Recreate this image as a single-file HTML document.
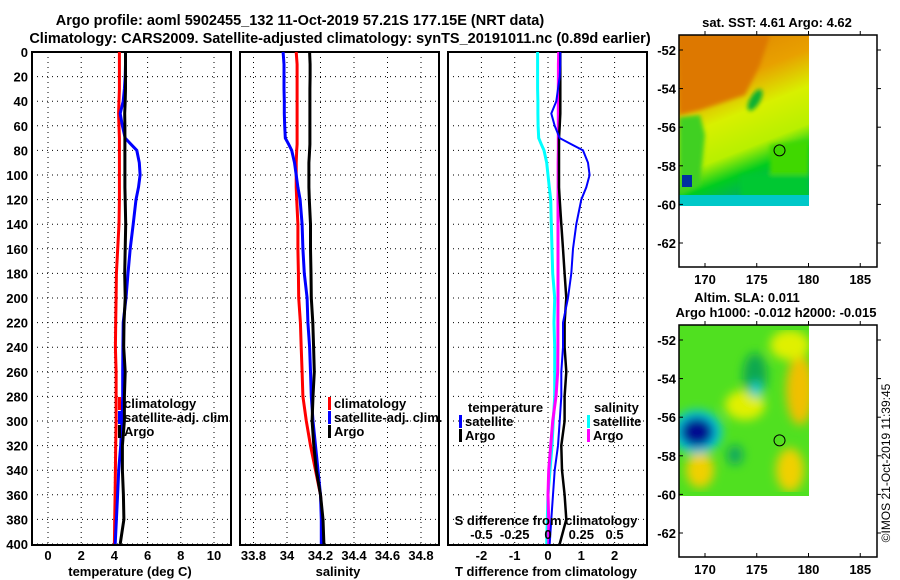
<!DOCTYPE html>
<html><head><meta charset="utf-8">
<style>
html,body{margin:0;padding:0;background:#fff;}
svg{display:block;font-family:"Liberation Sans",sans-serif;}
.b{font-weight:bold;font-size:14.5px;}
.t{font-weight:bold;font-size:13px;}
</style></head>
<body>
<svg id="chart" width="900" height="580" viewBox="0 0 900 580" xmlns="http://www.w3.org/2000/svg">
<defs>
<filter id="blur" x="0" y="0" width="1" height="1"><feGaussianBlur stdDeviation="5"/></filter>
<filter id="blur2" x="0" y="0" width="1" height="1"><feGaussianBlur stdDeviation="2"/></filter>
<clipPath id="clipTop"><rect x="679" y="35" width="130" height="171"/></clipPath>
<clipPath id="clipBot"><rect x="679" y="325" width="130" height="171"/></clipPath>
<linearGradient id="sstg" x1="0" y1="0" x2="0.3" y2="1">
<stop offset="0" stop-color="#dd7d00"/><stop offset="0.35" stop-color="#e8a000"/><stop offset="0.55" stop-color="#d8f000"/><stop offset="0.75" stop-color="#b8f000"/><stop offset="0.88" stop-color="#00cc20"/><stop offset="1" stop-color="#00b060"/>
</linearGradient>
</defs>
<text class="b" x="300" y="25" text-anchor="middle">Argo profile: aoml 5902455_132 11-Oct-2019 57.21S 177.15E (NRT data)</text>
<text class="b" x="340" y="43" text-anchor="middle">Climatology: CARS2009. Satellite-adjusted climatology: synTS_20191011.nc (0.89d earlier)</text>
<g id="panels"></g>
<g id="maps"></g>
<text x="890" y="463" font-size="12" text-anchor="middle" transform="rotate(-90 890 463)">©IMOS 21-Oct-2019 11:39:45</text>
</svg>
<script>
const depths = [0,10,20,30,40,50,60,70,75,80,90,100,110,120,140,160,180,200,220,240,260,280,300,320,340,360,380,400];
const climT = [4.3,4.3,4.3,4.3,4.28,4.25,4.28,4.3,4.3,4.3,4.3,4.3,4.3,4.3,4.28,4.2,4.12,4.1,4.08,4.06,4.1,4.1,4.1,4.08,4.06,4.04,4.02,4.0];
const satTdiff = [0.37,0.37,0.35,0.3,0.25,0.1,0.2,0.35,0.7,1.05,1.2,1.25,1.15,1.0,0.85,0.75,0.7,0.6,0.45,0.45,0.4,0.4,0.35,0.3,0.2,0.15,0.1,0.05];
const argoTdiff = [0.37,0.37,0.37,0.37,0.37,0.37,0.35,0.33,0.33,0.33,0.33,0.33,0.33,0.35,0.4,0.45,0.5,0.55,0.5,0.5,0.55,0.5,0.5,0.4,0.42,0.5,0.55,0.35];
const climS = [34.055,34.06,34.06,34.06,34.06,34.06,34.06,34.06,34.06,34.058,34.055,34.055,34.055,34.058,34.065,34.065,34.068,34.07,34.08,34.085,34.09,34.095,34.115,34.14,34.17,34.2,34.21,34.215];
const satSdiff = [-0.078,-0.078,-0.078,-0.078,-0.076,-0.076,-0.074,-0.07,-0.05,-0.03,-0.01,0.0,0.01,0.02,0.025,0.03,0.035,0.05,0.045,0.05,0.05,0.05,0.04,0.03,0.015,0.0,-0.005,-0.01];
const argoSdiff = [0.08,0.078,0.078,0.077,0.077,0.077,0.077,0.077,0.077,0.077,0.076,0.076,0.076,0.075,0.075,0.075,0.075,0.075,0.074,0.074,0.073,0.06,0.035,0.02,0.005,0.0,0.005,0.005];
const depthTicks = [0,20,40,60,80,100,120,140,160,180,200,220,240,260,280,300,320,340,360,380,400];
const tempTicks = [0,2,4,6,8,10];
const salTicks = [33.8,34,34.2,34.4,34.6,34.8];
const tdiffTicks = [-2,-1,0,1,2];
const sdiffTicks = [-0.5,-0.25,0,0.25,0.5];
const sdiffLabels = ["-0.5","-0.25","0","0.25","0.5"];

const NS="http://www.w3.org/2000/svg";
function mk(tag, attrs, parent, txt){const e=document.createElementNS(NS,tag);for(const k in attrs)e.setAttribute(k,attrs[k]);if(txt!==undefined)e.textContent=txt;parent.appendChild(e);return e;}
const yD = d => 52 + d*1.23;
const xT = t => 48 + 16.6*t;
const xS = s => 287 + (s-34)*167.5;
const xDT = t => 548 + 33.3*t;
const xDS = s => 548 + 133.2*s;
const G = document.getElementById('panels');

function frame(x0,name){
  const g = mk('g',{},G);
  
  
  return g;
}
function grid(g,x0,xs){
  depthTicks.forEach(d=>{ const l=mk('line',{x1:x0,x2:x0+199,y1:yD(d),y2:yD(d),stroke:'#000','stroke-width':1,'stroke-dasharray':'1 4'},g);
     });
  xs.forEach(x=>{ const l=mk('line',{x1:x,x2:x,y1:52,y2:545,stroke:'#000','stroke-width':1,'stroke-dasharray':'1 4'},g);
     });
  const r=mk('rect',{x:x0,y:52,width:199,height:493,fill:'none',stroke:'#000','stroke-width':2},g);
   
}
function line(g,vals,fx,color,w,name){
  const pts = vals.map((v,i)=>fx(v).toFixed(1)+','+yD(depths[i]).toFixed(1)).join(' ');
  const p = mk('polyline',{points:pts,fill:'none',stroke:color,'stroke-width':w,'stroke-linejoin':'miter'},g);
  
  
}
function legend(g,x,y,color,label,name){
  const r=mk('rect',{x:x,y:y-10,width:3,height:13,fill:color},g);
   
  const t=mk('text',{x:x+6,y:y+1,class:'t'},g,label);
   
}
const satT = climT.map((v,i)=>v+satTdiff[i]);
const argoT = climT.map((v,i)=>v+argoTdiff[i]);
const satS = climS.map((v,i)=>v+satSdiff[i]);
const argoS = climS.map((v,i)=>v+argoSdiff[i]);

let g1 = frame(32,'temperature-panel');
grid(g1,32,tempTicks.map(xT));
line(g1,climT,xT,'#ff0000',3,'temp-climatology-line');
line(g1,satT,xT,'#0000ff',3,'temp-satellite-line');
line(g1,argoT,xT,'#000',3,'temp-argo-line');
depthTicks.forEach(d=>{const t=mk('text',{x:28,y:yD(d)+5,class:'t','text-anchor':'end'},g1,String(d));  });
tempTicks.forEach(v=>{const t=mk('text',{x:xT(v),y:560,class:'t','text-anchor':'middle'},g1,String(v));  });
let at=mk('text',{x:130,y:576,class:'t','text-anchor':'middle'},g1,'temperature (deg C)');
 
legend(g1,118,407,'#ff0000','climatology','legend-climatology');
legend(g1,118,421,'#0000ff','satellite-adj. clim.','legend-satellite-adj');
legend(g1,118,435,'#000','Argo','legend-argo');

let g2 = frame(240,'salinity-panel');
grid(g2,240,salTicks.map(xS));
line(g2,climS,xS,'#ff0000',3,'sal-climatology-line');
line(g2,satS,xS,'#0000ff',3,'sal-satellite-line');
line(g2,argoS,xS,'#000',3,'sal-argo-line');
salTicks.forEach(v=>{const t=mk('text',{x:xS(v),y:560,class:'t','text-anchor':'middle'},g2,String(v));  });
at=mk('text',{x:338,y:576,class:'t','text-anchor':'middle'},g2,'salinity');
 
legend(g2,328,407,'#ff0000','climatology','legend-climatology');
legend(g2,328,421,'#0000ff','satellite-adj. clim.','legend-satellite-adj');
legend(g2,328,435,'#000','Argo','legend-argo');

let g3 = frame(448,'difference-panel');
grid(g3,448,tdiffTicks.map(xDT));
line(g3,satSdiff,xDS,'#00ffff',3,'sdiff-satellite-line');
line(g3,argoSdiff,xDS,'#ff00ff',3,'sdiff-argo-line');
line(g3,argoTdiff,xDT,'#000',2.5,'tdiff-argo-line');
line(g3,satTdiff,xDT,'#0000ff',2,'tdiff-satellite-line');
tdiffTicks.forEach(v=>{const t=mk('text',{x:xDT(v),y:560,class:'t','text-anchor':'middle'},g3,String(v));  });
sdiffTicks.forEach((v,i)=>{const t=mk('text',{x:xDS(v),y:539,class:'t','text-anchor':'middle'},g3,sdiffLabels[i]);  });
at=mk('text',{x:546,y:525,class:'t','text-anchor':'middle'},g3,'S difference from climatology');
 
at=mk('text',{x:546,y:576,class:'t','text-anchor':'middle'},g3,'T difference from climatology');
 
at=mk('text',{x:468,y:412,class:'t'},g3,'temperature');
 
at=mk('text',{x:594,y:412,class:'t'},g3,'salinity');
 
legend(g3,459,425,'#0000ff','satellite','legend-t-satellite');
legend(g3,459,439,'#000','Argo','legend-t-argo');
legend(g3,587,425,'#00ffff','satellite','legend-s-satellite');
legend(g3,587,439,'#ff00ff','Argo','legend-s-argo');

const lonTicks=[170,175,180,185];
const latTicks=[-52,-54,-56,-58,-60,-62];
const M=document.getElementById('maps');
const xLon = (lon)=>705+(lon-170)*10.35;
function mapFrame(y0,name,kind){
  const g=mk('g',{},M);
  
  
  const yLat = lat => y0+15+(-52-lat)*19.3;
  const img=mk('g',{'clip-path':kind==='sst'?'url(#clipTop)':'url(#clipBot)'},g);
  
  
  if(kind==='sst'){
    mk('rect',{x:679,y:y0,width:130,height:171,fill:'url(#sstg)'},img);
    const f=mk('g',{filter:'url(#blur2)'},img);
    mk('polygon',{points:'679,'+y0+' 770,'+y0+' 760,'+(y0+30)+' 745,'+(y0+60)+' 700,'+(y0+75)+' 679,'+(y0+80),fill:'#dd7800'},f);
    mk('polygon',{points:'679,'+(y0+82)+' 700,'+(y0+80)+' 705,'+(y0+100)+' 700,'+(y0+150)+' 679,'+(y0+160),fill:'#40d020'},f);
    mk('polygon',{points:'740,'+(y0+140)+' 809,'+(y0+135)+' 809,'+(y0+165)+' 740,'+(y0+165),fill:'#00c830'},f);
    mk('polygon',{points:'770,'+(y0+110)+' 809,'+(y0+105)+' 809,'+(y0+140)+' 770,'+(y0+140),fill:'#40d800'},f);
    mk('ellipse',{cx:755,cy:y0+65,rx:5,ry:12,fill:'#10b030',transform:'rotate(30 755 '+(y0+65)+')'},f);
    mk('rect',{x:679,y:y0+160,width:130,height:11,fill:'#00c8c8'},img);
    mk('rect',{x:682,y:y0+140,width:10,height:12,fill:'#0030a0'},img);
  } else {
    mk('rect',{x:679,y:y0,width:130,height:171,fill:'#50e020'},img);
    const f=mk('g',{filter:'url(#blur)'},img);
    mk('ellipse',{cx:745,cy:y0+80,rx:20,ry:15,fill:'#e0f000'},f);
    mk('ellipse',{cx:800,cy:y0+65,rx:14,ry:35,fill:'#f0c000'},f);
    mk('ellipse',{cx:790,cy:y0+145,rx:14,ry:22,fill:'#f0d000'},f);
    mk('ellipse',{cx:700,cy:y0+145,rx:14,ry:18,fill:'#f0d000'},f);
    mk('ellipse',{cx:790,cy:y0+20,rx:20,ry:15,fill:'#e0f000'},f);
    mk('ellipse',{cx:755,cy:y0+50,rx:12,ry:22,fill:'#10a850'},f);
    mk('ellipse',{cx:756,cy:y0+65,rx:6,ry:8,fill:'#20d0d0'},f);
    mk('ellipse',{cx:735,cy:y0+130,rx:8,ry:10,fill:'#10a860'},f);
    mk('ellipse',{cx:697,cy:y0+107,rx:25,ry:22,fill:'#00c8e0'},f);
    mk('ellipse',{cx:697,cy:y0+107,rx:17,ry:15,fill:'#000890'},f);
  }
  mk('circle',{cx:xLon(177.2),cy:yLat(-57.2),r:5.5,fill:'none',stroke:'#000','stroke-width':1},g);
  mk('rect',{x:679,y:y0,width:198,height:232,fill:'none',stroke:'#000','stroke-width':1.5},g);
  lonTicks.forEach(l=>{
    mk('line',{x1:xLon(l),x2:xLon(l),y1:y0,y2:y0-4,stroke:'#000'},g);
    mk('line',{x1:xLon(l),x2:xLon(l),y1:y0+232,y2:y0+228,stroke:'#000'},g);
    const t=mk('text',{x:xLon(l),y:y0+249,class:'t','text-anchor':'middle'},g,String(l));
     
  });
  latTicks.forEach(l=>{
    mk('line',{x1:679,x2:683,y1:yLat(l),y2:yLat(l),stroke:'#000'},g);
    mk('line',{x1:877,x2:881,y1:yLat(l),y2:yLat(l),stroke:'#000'},g);
    const t=mk('text',{x:676,y:yLat(l)+5,class:'t','text-anchor':'end'},g,String(l));
     
  });
  return g;
}
const m1=mapFrame(35,'sst-map','sst');
let tt=mk('text',{x:777,y:27,class:'t','text-anchor':'middle'},m1,'sat. SST: 4.61 Argo: 4.62');
 
const m2=mapFrame(325,'sla-map','sla');
tt=mk('text',{x:747,y:302,class:'t','text-anchor':'middle'},m2,'Altim. SLA: 0.011');
 
tt=mk('text',{x:776,y:317,class:'t','text-anchor':'middle'},m2,'Argo h1000: -0.012 h2000: -0.015');
 
</script>
</body></html>
